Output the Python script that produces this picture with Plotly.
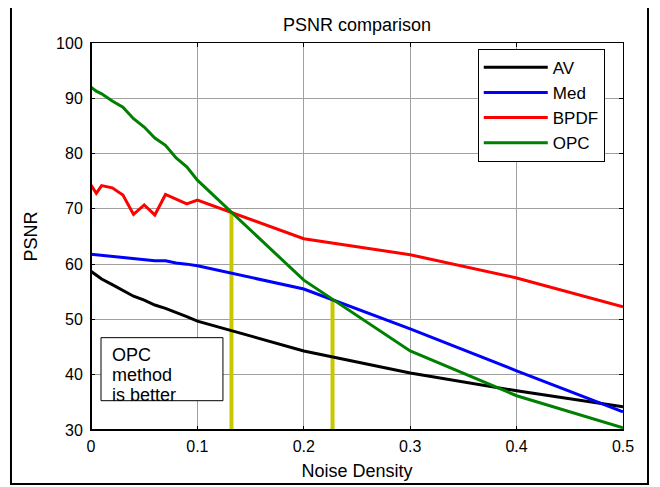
import plotly.graph_objects as go

# Noise density samples
noise = [0, 0.005, 0.01, 0.02, 0.03, 0.04, 0.05, 0.06, 0.07, 0.08, 0.09, 0.1, 0.2, 0.3, 0.4, 0.5]

av   = [58.7, 58.0, 57.3, 56.3, 55.2, 54.2, 53.5, 52.6, 52.0, 51.3, 50.5, 49.7, 44.3, 40.3, 37.1, 34.2]
med  = [61.8, 61.7, 61.6, 61.4, 61.3, 61.0, 60.8, 60.6, 60.6, 60.2, 60.0, 59.7, 55.5, 48.3, 40.7, 33.3]
bpdf = [74.3, 72.8, 74.2, 73.8, 72.5, 69.0, 70.7, 68.9, 72.6, 71.8, 70.9, 71.6, 64.6, 61.7, 57.5, 52.3]
opc  = [92.0, 91.3, 90.8, 89.5, 88.4, 86.3, 84.8, 82.8, 81.5, 79.2, 77.6, 75.2, 57.1, 44.3, 36.2, 30.4]

# crossover markers (vertical yellow lines)
cross_x = [0.132, 0.227]
cross_y = [69.5, 53.5]

series_names = ["AV", "Med", "BPDF", "OPC"]
series_vals = [av, med, bpdf, opc]
series_colors = ["#000000", "#0000ff", "#ff0000", "#008000"]

x_ticks = [0, 0.1, 0.2, 0.3, 0.4, 0.5]
x_tick_text = ["0", "0.1", "0.2", "0.3", "0.4", "0.5"]
y_ticks = [30, 40, 50, 60, 70, 80, 90, 100]

note_lines = ["OPC", "method", "is better"]
note_y = [43.6, 40.0, 36.3]

FONT = "Liberation Sans, Arial, sans-serif"

fig = go.Figure()

for cx, cy in zip(cross_x, cross_y):
    fig.add_trace(go.Scatter(x=[cx, cx], y=[30, cy], mode="lines",
                             line=dict(color="#c8c800", width=4),
                             showlegend=False, hoverinfo="skip"))

for name, vals, col in zip(series_names, series_vals, series_colors):
    fig.add_trace(go.Scatter(x=noise, y=vals, mode="lines", name=name,
                             line=dict(color=col, width=3)))

axis_common = dict(showline=True, linecolor="black", linewidth=1, mirror="ticks",
                   ticks="inside", ticklen=4, tickcolor="black",
                   showgrid=True, gridcolor="#a0a0a0", gridwidth=1,
                   zeroline=False, tickfont=dict(family=FONT, size=16, color="black"))

fig.update_xaxes(range=[0, 0.5], tickvals=x_ticks, ticktext=x_tick_text,
                 ticklabelstandoff=2,
                 title=dict(text="Noise Density", font=dict(family=FONT, size=18, color="black"), standoff=10),
                 **axis_common)
fig.update_yaxes(range=[30, 100], tickvals=y_ticks, ticklabelstandoff=4,
                 title=dict(text="PSNR", font=dict(family=FONT, size=18, color="black"), standoff=13),
                 **axis_common)

# thicker left & bottom axis lines
fig.add_shape(type="line", xref="paper", yref="paper", x0=0, x1=0, y0=0, y1=1,
              line=dict(color="black", width=2))
fig.add_shape(type="line", xref="paper", yref="paper", x0=0, x1=1, y0=0, y1=0,
              line=dict(color="black", width=2))

# outer figure frame
fig.add_shape(type="rect", xref="paper", yref="paper",
              x0=-0.1504, x1=1.047, y0=-0.1395, y1=1.098,
              line=dict(color="black", width=2))

# text box
fig.add_shape(type="rect", xref="x", yref="y", x0=0.0094, x1=0.124, y0=35.3, y1=46.7,
              line=dict(color="black", width=1), fillcolor="white", layer="above")
for txt, ty in zip(note_lines, note_y):
    fig.add_annotation(x=0.018, y=ty, xref="x", yref="y", xanchor="left", yanchor="middle",
                       text=txt, align="left", showarrow=False,
                       font=dict(family=FONT, size=18, color="black"))

fig.update_layout(
    width=660, height=487,
    margin=dict(l=83, r=45, t=35, b=65),
    paper_bgcolor="white", plot_bgcolor="white",
    title=dict(text="PSNR comparison", x=0.5, xref="paper", xanchor="center",
               y=1 - 17 / 487, yanchor="middle",
               font=dict(family=FONT, size=18, color="black")),
    legend=dict(x=0.727, y=0.985, xanchor="left", yanchor="top",
                bgcolor="white", bordercolor="black", borderwidth=1,
                font=dict(family=FONT, size=17, color="black"),
                itemwidth=64),
    showlegend=True,
)

fig.write_html("out.html")
